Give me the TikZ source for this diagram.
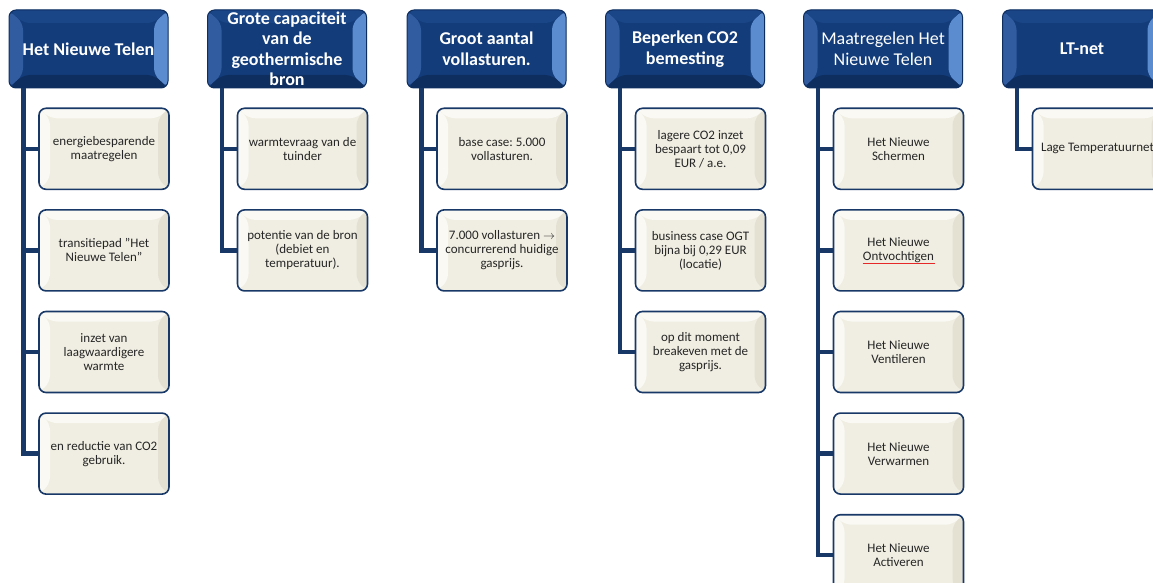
\documentclass[tikz,border=0pt]{standalone}
\usepackage{fontspec}
\setmainfont{Carlito}
\usetikzlibrary{positioning}
\frenchspacing

\definecolor{kopblauw}{RGB}{19,60,122}
\definecolor{koplinks}{RGB}{50,92,160}
\definecolor{koprechts}{RGB}{92,140,208}
\definecolor{kopboven}{RGB}{26,69,134}
\definecolor{kraal}{RGB}{14,46,96}
\definecolor{lijnblauw}{RGB}{24,56,104}
\definecolor{room}{RGB}{240,238,226}
\definecolor{roomlicht}{RGB}{250,249,243}
\definecolor{roomdonker}{RGB}{228,225,210}
\definecolor{spelrood}{RGB}{230,40,40}

\tikzset{
  % 标题框（蓝色斜面）
  kop/.style={rounded corners=7pt, fill=kopblauw, draw=kraal, line width=1pt,
    minimum width=159pt, minimum height=78pt, inner sep=0pt,
    align=center, text=white,
    font=\fontsize{18}{20.5}\selectfont\bfseries,
    path picture={
      \fill[koplinks] (path picture bounding box.north west) -- (path picture bounding box.south west)
        -- ([shift={(14pt,13pt)}]path picture bounding box.south west)
        -- ([shift={(14pt,-13pt)}]path picture bounding box.north west) -- cycle;
      \fill[koprechts] (path picture bounding box.north east) -- (path picture bounding box.south east)
        -- ([shift={(-14pt,13pt)}]path picture bounding box.south east)
        -- ([shift={(-14pt,-13pt)}]path picture bounding box.north east) -- cycle;
      \fill[kopboven] (path picture bounding box.north west) -- (path picture bounding box.north east)
        -- ([shift={(-14pt,-13pt)}]path picture bounding box.north east)
        -- ([shift={(14pt,-13pt)}]path picture bounding box.north west) -- cycle;
      \fill[kraal] (path picture bounding box.south west) -- (path picture bounding box.south east)
        -- ([shift={(-14pt,13pt)}]path picture bounding box.south east)
        -- ([shift={(14pt,13pt)}]path picture bounding box.south west) -- cycle;
    }},
  % 子项框（米色斜面）
  blok/.style={rounded corners=7pt, fill=room, draw=lijnblauw, line width=1.6pt,
    minimum width=130pt, minimum height=81pt, inner sep=0pt,
    align=center, text=black!85,
    font=\fontsize{13}{14}\selectfont,
    path picture={
      \fill[roomlicht] (path picture bounding box.north west) -- (path picture bounding box.south west)
        -- ([shift={(11pt,10pt)}]path picture bounding box.south west)
        -- ([shift={(11pt,-10pt)}]path picture bounding box.north west) -- cycle;
      \fill[roomlicht] (path picture bounding box.north west) -- (path picture bounding box.north east)
        -- ([shift={(-11pt,-10pt)}]path picture bounding box.north east)
        -- ([shift={(11pt,-10pt)}]path picture bounding box.north west) -- cycle;
      \fill[roomdonker] (path picture bounding box.north east) -- (path picture bounding box.south east)
        -- ([shift={(-11pt,10pt)}]path picture bounding box.south east)
        -- ([shift={(-11pt,-10pt)}]path picture bounding box.north east) -- cycle;
    }},
  % 连接线
  tak/.style={draw=lijnblauw, line width=4.5pt, line join=miter}
}

\begin{document}
\begin{tikzpicture}[x=1pt,y=-1pt]
\useasboundingbox (0,0) rectangle (1153,583);

%==================== 第1列 ====================
\node[kop] (kop1) at (88.5,49) {Het Nieuwe Telen};
\coordinate (as1) at ([xshift=15pt]kop1.south west);
\node[blok, below=19pt of kop1, xshift=15.5pt] (b11) {energiebesparende\\maatregelen};
\node[blok, below=19pt of b11] (b12) {transitiepad "Het\\Nieuwe Telen"};
\node[blok, below=19pt of b12] (b13) {inzet van\\laagwaardigere\\warmte};
\node[blok, below=19pt of b13] (b14) {en reductie van CO2\\gebruik.};
\draw[tak] (as1) |- (b11.west) (as1) |- (b12.west) (as1) |- (b13.west) (as1) |- (b14.west);

%==================== 第2列 ====================
\node[kop] (kop2) at (287,49) {Grote capaciteit\\van de\\geothermische\\bron};
\coordinate (as2) at ([xshift=15pt]kop2.south west);
\node[blok, below=19pt of kop2.south, anchor=north, xshift=15.5pt] (b21) {warmtevraag van de\\tuinder};
\node[blok, below=19pt of b21] (b22) {potentie van de bron\\(debiet en\\temperatuur).};
\draw[tak] (as2) |- (b21.west) (as2) |- (b22.west);

%==================== 第3列 ====================
\node[kop] (kop3) at (486.5,49) {Groot aantal\\vollasturen.};
\coordinate (as3) at ([xshift=15pt]kop3.south west);
\node[blok, below=19pt of kop3, xshift=15.5pt] (b31) {base case: 5.000\\vollasturen.};
\node[blok, below=19pt of b31] (b32) {7.000 vollasturen $\rightarrow$\\concurrerend huidige\\gasprijs.};
\draw[tak] (as3) |- (b31.west) (as3) |- (b32.west);

%==================== 第4列 ====================
\node[kop] (kop4) at (685,49) {Beperken CO2\\bemesting};
\coordinate (as4) at ([xshift=15pt]kop4.south west);
\node[blok, below=19pt of kop4, xshift=15.5pt] (b41) {lagere CO2 inzet\\bespaart tot 0,09\\EUR / a.e.};
\node[blok, below=19pt of b41] (b42) {business case OGT\\bijna bij 0,29 EUR\\(locatie)};
\node[blok, below=19pt of b42] (b43) {op dit moment\\breakeven met de\\gasprijs.};
\draw[tak] (as4) |- (b41.west) (as4) |- (b42.west) (as4) |- (b43.west);

%==================== 第5列 ====================
\node[kop, font=\fontsize{18}{20.5}\selectfont] (kop5) at (883,49) {Maatregelen Het\\Nieuwe Telen};
\coordinate (as5) at ([xshift=15pt]kop5.south west);
\node[blok, below=19pt of kop5, xshift=15.5pt] (b51) {Het Nieuwe\\Schermen};
\node[blok, below=19pt of b51] (b52) {Het Nieuwe\\Ontvochtigen};
\node[blok, below=19pt of b52] (b53) {Het Nieuwe\\Ventileren};
\node[blok, below=19pt of b53] (b54) {Het Nieuwe\\Verwarmen};
\node[blok, below=19pt of b54] (b55) {Het Nieuwe\\Activeren};
\draw[tak] (as5) |- (b51.west) (as5) |- (b52.west) (as5) |- (b53.west)
  (as5) |- (b54.west) (as5) |- (b55.west);

% 拼写检查的红线
\draw[spelrood, line width=0.9pt] ([xshift=-36pt,yshift=-13pt]b52.center) -- ++(72pt,0pt);

%==================== 第6列 ====================
\node[kop] (kop6) at (1082,49) {LT-net};
\coordinate (as6) at ([xshift=15pt]kop6.south west);
\node[blok, below=19pt of kop6, xshift=15.5pt] (b61) {Lage Temperatuurnet};
\draw[tak] (as6) |- (b61.west);

\end{tikzpicture}
\end{document}
